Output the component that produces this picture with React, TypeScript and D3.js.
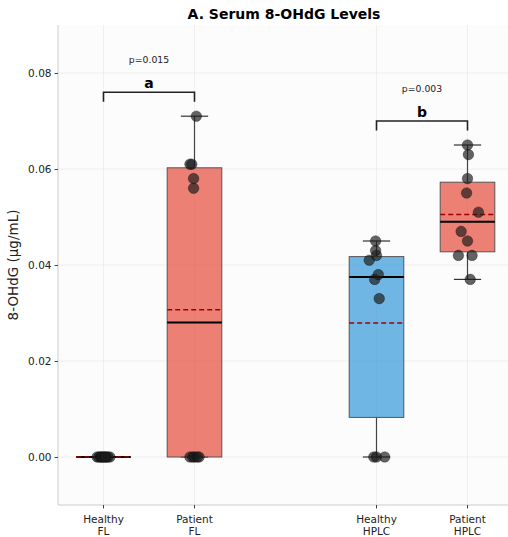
import React from 'react';
import * as d3 from 'd3';

const groups = ['Healthy\nFL', 'Patient\nFL', 'Healthy\nHPLC', 'Patient\nHPLC'];
const groupPos = [0, 1, 3, 4];
const groupType = ['healthy', 'patient', 'healthy', 'patient'];

const healthyFL = [0, 0, 0, 0, 0, 0, 0, 0, 0, 0];
const patientFL = [0, 0, 0, 0, 0, 0.056, 0.058, 0.061, 0.061, 0.071];
const healthyHPLC = [0, 0, 0, 0.033, 0.037, 0.038, 0.041, 0.042, 0.043, 0.045];
const patientHPLC = [0.037, 0.042, 0.042, 0.045, 0.047, 0.051, 0.055, 0.058, 0.063, 0.065];
const values = [healthyFL, patientFL, healthyHPLC, patientHPLC];

// jitter of the dots, in category units
const jitterHealthyFL = [-0.07, -0.05, -0.03, -0.01, 0.01, 0.03, 0.05, 0.07, -0.02, 0.02];
const jitterPatientFL = [-0.05, -0.02, 0, 0.03, 0.05, -0.01, -0.01, -0.05, -0.03, 0.02];
const jitterHealthyHPLC = [-0.03, 0, 0.09, 0.03, -0.02, 0.02, -0.08, 0, -0.01, -0.01];
const jitterPatientHPLC = [0.03, -0.1, 0.05, 0, -0.07, 0.12, -0.01, 0, 0.01, 0];
const jitters = [jitterHealthyFL, jitterPatientFL, jitterHealthyHPLC, jitterPatientHPLC];

const yTicks = [0, 0.02, 0.04, 0.06, 0.08];

const comparisons = [
    { a: 0, b: 1, letter: 'a', p: 'p=0.015' },
    { a: 2, b: 3, letter: 'b', p: 'p=0.003' },
];

const colors = { healthy: '#3498db', patient: '#e74c3c' };

function stats(v) {
    const s = [...v].sort(d3.ascending);
    const q1 = d3.quantile(s, 0.25), q3 = d3.quantile(s, 0.75);
    const iqr = q3 - q1;
    const lo = d3.min(s.filter(d => d >= q1 - 1.5 * iqr));
    const hi = d3.max(s.filter(d => d <= q3 + 1.5 * iqr));
    return { q1, q3, med: d3.quantile(s, 0.5), mean: d3.mean(s), lo, hi, max: d3.max(s) };
}

export default function App() {
    const ref = React.useRef(null);

    React.useEffect(() => {
        const width = 508, height = 537;
        const marginLeft = 58, marginTop = 25, marginBottom = 32;
        const svg = d3.select(ref.current);
        svg.selectAll('*').remove();
        svg.attr('width', width).attr('height', height)
            .style('font-family', '"DejaVu Sans", sans-serif');

        const x = d3.scaleLinear([-0.5, 4.5], [marginLeft, marginLeft + 455]);
        const y = d3.scaleLinear([-0.01, 0.09], [height - marginBottom, marginTop]);

        svg.append('rect').attr('width', width).attr('height', height).attr('fill', '#fff');
        svg.append('rect')
            .attr('x', marginLeft).attr('y', marginTop)
            .attr('width', width - marginLeft).attr('height', height - marginBottom - marginTop)
            .attr('fill', '#fcfcfc');

        // grid
        const grid = svg.append('g').attr('stroke', '#ebebeb').attr('stroke-width', 0.8);
        grid.selectAll('.gy').data(yTicks).join('line')
            .attr('x1', marginLeft).attr('x2', width)
            .attr('y1', d => y(d)).attr('y2', d => y(d));
        grid.selectAll('.gx').data(groupPos).join('line')
            .attr('x1', d => x(d)).attr('x2', d => x(d))
            .attr('y1', marginTop).attr('y2', height - marginBottom);

        // axes
        const yAxis = d3.axisLeft(y).tickValues(yTicks).tickFormat(d3.format('.2f')).tickSize(3.5).tickPadding(3);
        svg.append('g')
            .attr('transform', `translate(${marginLeft},0)`)
            .call(yAxis)
            .call(g => g.select('.domain').attr('stroke', '#cccccc').attr('d', `M0,${marginTop}V${height - marginBottom}`))
            .call(g => g.selectAll('.tick line').attr('stroke', '#444'))
            .call(g => g.selectAll('.tick text').attr('font-size', 10.5).attr('fill', '#222').attr('font-family', '"DejaVu Sans", sans-serif'));

        svg.append('line')
            .attr('x1', marginLeft).attr('x2', width)
            .attr('y1', height - marginBottom).attr('y2', height - marginBottom)
            .attr('stroke', '#cccccc');

        const xt = svg.append('g').selectAll('g').data(groups).join('g')
            .attr('transform', (d, i) => `translate(${x(groupPos[i])},${height - marginBottom})`);
        xt.append('line').attr('y2', 3.5).attr('stroke', '#444');
        xt.append('text')
            .attr('text-anchor', 'middle').attr('font-size', 10.5).attr('fill', '#222')
            .selectAll('tspan').data(d => d.split('\n')).join('tspan')
            .attr('x', 0).attr('y', (d, i) => 17.5 + i * 12.5).text(d => d);

        svg.append('text')
            .attr('transform', `translate(18,${(marginTop + height - marginBottom) / 2}) rotate(-90)`)
            .attr('text-anchor', 'middle').attr('font-size', 13.5).attr('fill', '#222')
            .text('8-OHdG (µg/mL)');

        svg.append('text')
            .attr('x', 284).attr('y', 19)
            .attr('text-anchor', 'middle').attr('font-size', 14).attr('font-weight', 'bold')
            .text('A. Serum 8-OHdG Levels');

        // boxes
        const bw = 0.3, cw = 0.15;
        const S = values.map(stats);
        const boxes = svg.append('g').selectAll('g').data(S).join('g');
        boxes.append('line')
            .attr('x1', (d, i) => x(groupPos[i])).attr('x2', (d, i) => x(groupPos[i]))
            .attr('y1', d => y(d.q3)).attr('y2', d => y(d.hi))
            .attr('stroke', '#444').attr('stroke-width', 1.2);
        boxes.append('line')
            .attr('x1', (d, i) => x(groupPos[i])).attr('x2', (d, i) => x(groupPos[i]))
            .attr('y1', d => y(d.q1)).attr('y2', d => y(d.lo))
            .attr('stroke', '#444').attr('stroke-width', 1.2);
        boxes.selectAll('.cap').data((d, i) => [[d.lo, i], [d.hi, i]]).join('line')
            .attr('x1', ([, i]) => x(groupPos[i] - cw)).attr('x2', ([, i]) => x(groupPos[i] + cw))
            .attr('y1', ([v]) => y(v)).attr('y2', ([v]) => y(v))
            .attr('stroke', '#333').attr('stroke-width', 1.2);
        boxes.append('rect')
            .attr('x', (d, i) => x(groupPos[i] - bw)).attr('width', x(bw) - x(-bw))
            .attr('y', d => y(d.q3)).attr('height', d => y(d.q1) - y(d.q3))
            .attr('fill', (d, i) => colors[groupType[i]]).attr('fill-opacity', 0.7)
            .attr('stroke', '#555').attr('stroke-width', 1);
        boxes.append('line')
            .attr('x1', (d, i) => x(groupPos[i] - bw)).attr('x2', (d, i) => x(groupPos[i] + bw))
            .attr('y1', d => y(d.med)).attr('y2', d => y(d.med))
            .attr('stroke', '#000').attr('stroke-width', 2);
        boxes.append('line')
            .attr('x1', (d, i) => x(groupPos[i] - bw)).attr('x2', (d, i) => x(groupPos[i] + bw))
            .attr('y1', d => y(d.mean)).attr('y2', d => y(d.mean))
            .attr('stroke', '#a00000').attr('stroke-width', 1.5).attr('stroke-dasharray', '5,3');

        // dots
        const dots = values.flatMap((v, i) => v.map((d, j) => ({ g: i, v: d, j: jitters[i][j] })));
        svg.append('g').selectAll('circle').data(dots).join('circle')
            .attr('cx', d => x(groupPos[d.g] + d.j)).attr('cy', d => y(d.v)).attr('r', 5.3)
            .attr('fill', '#1a1a1a').attr('fill-opacity', 0.68)
            .attr('stroke', '#000').attr('stroke-opacity', 0.5).attr('stroke-width', 0.6);

        // significance brackets
        const br = svg.append('g').selectAll('g').data(comparisons).join('g');
        const top = d => Math.max(S[d.a].max, S[d.b].max) + 0.005;
        br.append('path')
            .attr('d', d => `M${x(groupPos[d.a])},${y(top(d) - 0.002)}V${y(top(d))}H${x(groupPos[d.b])}V${y(top(d) - 0.002)}`)
            .attr('fill', 'none').attr('stroke', '#222').attr('stroke-width', 1.6);
        br.append('text')
            .attr('x', d => x((groupPos[d.a] + groupPos[d.b]) / 2)).attr('y', d => y(top(d)) - 4)
            .attr('text-anchor', 'middle').attr('font-size', 14).attr('font-weight', 'bold')
            .text(d => d.letter);
        br.append('text')
            .attr('x', d => x((groupPos[d.a] + groupPos[d.b]) / 2)).attr('y', d => y(top(d)) - 29.5)
            .attr('text-anchor', 'middle').attr('font-size', 9.3).attr('fill', '#222')
            .text(d => d.p);
    }, []);

    return (
        <div style={{ position: 'absolute', left: 0, top: 0 }}>
            <svg ref={ref} />
        </div>
    );
}
